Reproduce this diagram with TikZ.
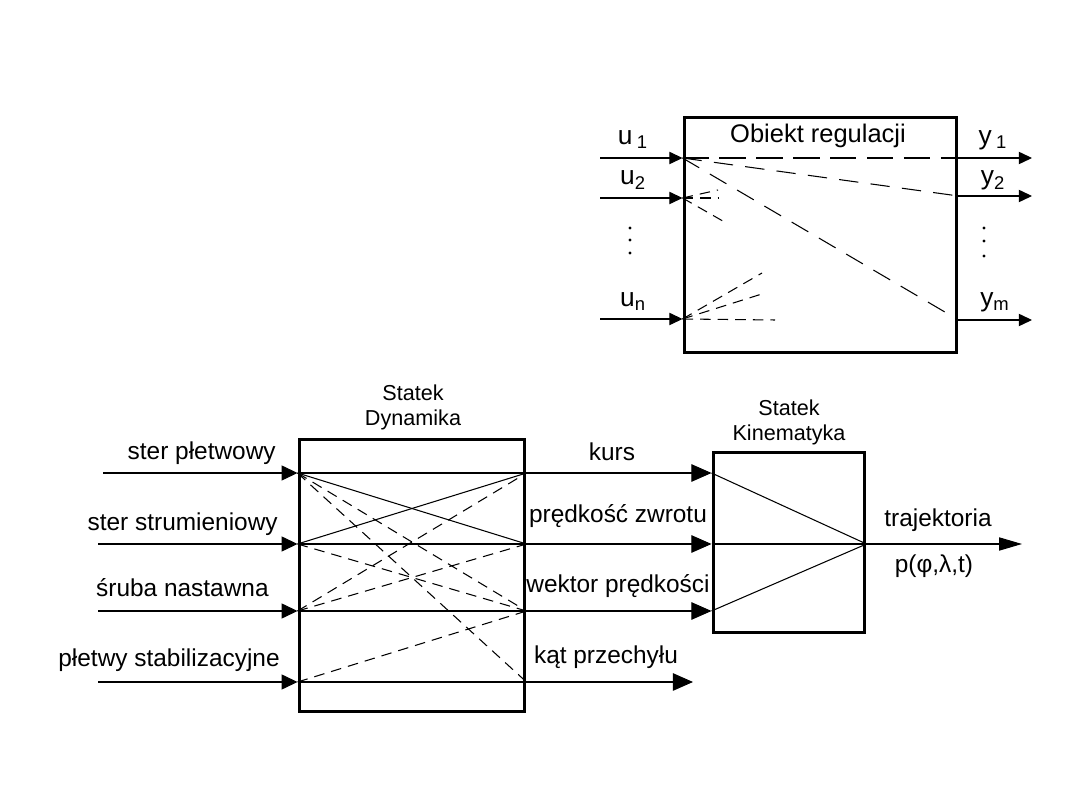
\documentclass[tikz,border=0pt]{standalone}
\usepackage{fontspec}
\setmainfont{Liberation Sans}
\usetikzlibrary{arrows.meta,positioning,calc}

\begin{document}
\begin{tikzpicture}[
  x=0.02cm, y=-0.02cm,
  blok/.style={draw, line width=1.7pt, inner sep=0pt},
  etykieta/.style={font=\fontsize{13.9}{16}\selectfont, inner sep=0pt},
  zmienna/.style={font=\fontsize{15}{17}\selectfont, inner sep=0pt},
  tytul/.style={font=\fontsize{12.3}{14.5}\selectfont, inner sep=0pt, align=center},
  linia/.style={line width=0.6pt},
  kreska/.style={line width=0.6pt, dash pattern=on 6pt off 4pt},
  dluga/.style={line width=0.6pt, dash pattern=on 11pt off 7pt},
  prosta/.style={line width=0.6pt, dash pattern=on 15pt off 6pt},
  wejscie/.style={line width=0.6pt, -{Triangle[length=9pt, width=8.5pt]}},
  duza/.style={line width=0.6pt, -{Triangle[length=11.5pt, width=10pt]}},
  male/.style={line width=0.6pt, -{Triangle[length=7.5pt, width=7pt]}}
]
  \useasboundingbox (0,0) rectangle (1080,810);

  % obiekt regulacji
  \node[blok, minimum width=5.46cm, minimum height=4.72cm] (obiekt) at (820.5,235) {};
  \node[etykieta, font=\fontsize{14.5}{17}\selectfont, anchor=base] (tobiekt) at (818,143) {Obiekt regulacji};

  \coordinate (u1) at (obiekt.west |- 0,158);
  \coordinate (u2) at (obiekt.west |- 0,198);
  \coordinate (un) at (obiekt.west |- 0,319);
  \coordinate (y1) at (obiekt.east |- 0,158);
  \coordinate (y2) at (obiekt.east |- 0,196);
  \coordinate (ym) at (obiekt.east |- 0,320);
  \coordinate (pu1) at (600,158);
  \coordinate (pu2) at (600,198);
  \coordinate (pun) at (600,319);
  \coordinate (ky1) at (1032,158);
  \coordinate (ky2) at (1032,196);
  \coordinate (kym) at (1032,320);

  \draw[male] (pu1) -- (u1);
  \draw[male] (pu2) -- (u2);
  \draw[male] (pun) -- (un);
  \draw[male] (y1) -- (ky1);
  \draw[male] (y2) -- (ky2);
  \draw[male] (ym) -- (kym);

  \node[zmienna, anchor=base] (lu1) at (633,145) {u\,\textsubscript{1}};
  \node[zmienna, anchor=base] (lu2) at (633,185) {u\textsubscript{2}};
  \node[zmienna, anchor=base] (lun) at (633,307) {u\textsubscript{n}};
  \node[zmienna, anchor=base] (ly1) at (993,145) {y\,\textsubscript{1}};
  \node[zmienna, anchor=base] (ly2) at (993,185) {y\textsubscript{2}};
  \node[zmienna, anchor=base] (lym) at (995,307) {y\textsubscript{m}};

  % kropki
  \foreach \yy in {228,240,253} {
    \fill (630,\yy) circle (1.7);
  }
  \foreach \yy in {228,241,256} {
    \fill (984,\yy) circle (1.7);
  }

  % sprzezenia wewnatrz obiektu
  \coordinate (s1) at (718,190);
  \coordinate (s2) at (718,198);
  \coordinate (s3) at (728,224);
  \coordinate (s4) at (762,273);
  \coordinate (s5) at (765,293);
  \coordinate (s6) at (775,320);
  \draw[prosta] (u1) -- (y1);
  \draw[dluga] (u1) -- (y2);
  \draw[dluga] (u1) -- (ym);
  \draw[kreska] (u2) -- (s1);
  \draw[kreska] (u2) -- (s2);
  \draw[kreska] (u2) -- (s3);
  \draw[kreska] (un) -- (s4);
  \draw[kreska] (un) -- (s5);
  \draw[kreska] (un) -- (s6);

  % statek - dynamika
  \node[blok, minimum width=4.52cm, minimum height=5.46cm] (dyn) at (412,575.5) {};
  \node[tytul, anchor=base] (tdyn) at (413,426) {Statek\\Dynamika};

  \coordinate (L1) at (dyn.west |- 0,473);
  \coordinate (L2) at (dyn.west |- 0,544);
  \coordinate (L3) at (dyn.west |- 0,611);
  \coordinate (L4) at (dyn.west |- 0,682);
  \coordinate (R1) at (dyn.east |- 0,473);
  \coordinate (R2) at (dyn.east |- 0,544);
  \coordinate (R3) at (dyn.east |- 0,611);
  \coordinate (R4) at (dyn.east |- 0,682);
  \coordinate (w1) at (103,473);
  \coordinate (w2) at (98,544);
  \coordinate (w3) at (98,611);
  \coordinate (w4) at (98,682);

  \draw[wejscie] (w1) -- (L1);
  \draw[wejscie] (w2) -- (L2);
  \draw[wejscie] (w3) -- (L3);
  \draw[wejscie] (w4) -- (L4);

  \node[etykieta, anchor=base east] (ster1) at (276,460) {ster płetwowy};
  \node[etykieta, anchor=base east] (ster2) at (278,531) {ster strumieniowy};
  \node[etykieta, anchor=base east] (sruba) at (269,597) {śruba nastawna};
  \node[etykieta, anchor=base east] (pletwy) at (280,667) {płetwy stabilizacyjne};

  \draw[linia] (L1) -- (R1);
  \draw[linia] (L2) -- (R2);
  \draw[linia] (L3) -- (R3);
  \draw[linia] (L4) -- (R4);
  \draw[linia] (L1) -- (R2);
  \draw[linia] (L2) -- (R1);
  \draw[kreska] (L1) -- (R3);
  \draw[kreska] (L1) -- (R4);
  \draw[kreska] (L2) -- (R3);
  \draw[kreska] (L3) -- (R1);
  \draw[kreska] (L3) -- (R2);
  \draw[kreska] (L4) -- (R3);

  % statek - kinematyka
  \node[blok, minimum width=3.04cm, minimum height=3.62cm] (kin) at (789,542.5) {};
  \node[tytul, anchor=base] (tkin) at (789,441) {Statek\\Kinematyka};

  \coordinate (K1) at (kin.west |- 0,473);
  \coordinate (K2) at (kin.west |- 0,544);
  \coordinate (K3) at (kin.west |- 0,611);
  \coordinate (K0) at (kin.east |- 0,544);
  \coordinate (kat) at (693,682);
  \coordinate (traj) at (1022,544);

  \draw[duza] (R1) -- (K1);
  \draw[duza] (R2) -- (K2);
  \draw[duza] (R3) -- (K3);
  \draw[duza] (R4) -- (kat);
  \draw[linia] (K1) -- (K0);
  \draw[linia] (K2) -- (K0);
  \draw[linia] (K3) -- (K0);
  \draw[linia, -{Triangle[length=13pt, width=7.5pt]}] (K0) -- (traj);

  \node[etykieta, anchor=base] (kurs) at (612,461) {kurs};
  \node[etykieta, anchor=base] (zwrot) at (618,523) {prędkość zwrotu};
  \node[etykieta, anchor=base] (wektor) at (618,593) {wektor prędkości};
  \node[etykieta, anchor=base] (przechyl) at (606,664) {kąt przechyłu};
  \node[etykieta, anchor=base] (trajektoria) at (938,527) {trajektoria};
  \node[etykieta, anchor=base] (pozycja) at (934,573) {p(φ,λ,t)};
\end{tikzpicture}
\end{document}
